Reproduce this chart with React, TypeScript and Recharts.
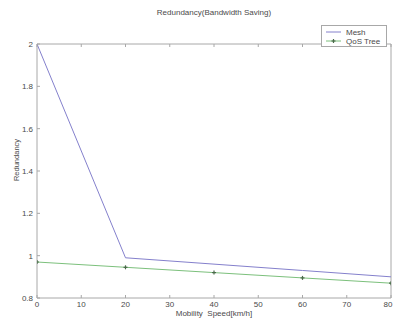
import React from 'react';
import { LineChart, Line, XAxis, YAxis, Legend, ReferenceArea } from 'recharts';

const speeds = [0, 20, 40, 60, 80];
const meshValues = [2.0, 0.99, 0.96, 0.93, 0.9];
const qosValues = [0.97, 0.945, 0.92, 0.895, 0.87];
const xTicks = [0, 10, 20, 30, 40, 50, 60, 70, 80];
const yTicks = [0.8, 1, 1.2, 1.4, 1.6, 1.8, 2];
const seriesNames = ['Mesh', 'QoS Tree'];

const data = speeds.map((s, i) => ({ speed: s, mesh: meshValues[i], qos: qosValues[i] }));

const FONT = '"Liberation Sans", Arial, sans-serif';
const TEXT = '#4a4a4a';
const FRAME = '#a8a8a8';
const MESH = '#8480cc';
const QOS = '#7cc07c';
const TICK = 3;
const FS = 8;

const PlusDot = (props: any) => {
  const { cx, cy } = props;
  if (cx == null || cy == null) return null;
  return (
    <g>
      <line x1={cx - 2} y1={cy} x2={cx + 2} y2={cy} stroke="#4a6a4a" strokeWidth={1.2} />
      <line x1={cx} y1={cy - 2} x2={cx} y2={cy + 2} stroke="#4a6a4a" strokeWidth={1.2} />
    </g>
  );
};

const BottomTick = (props: any) => {
  const { x, y, payload, index } = props;
  const last = index === xTicks.length - 1;
  return (
    <g>
      <line x1={x} y1={y} x2={x} y2={y - TICK} stroke={FRAME} />
      <text
        x={last ? Math.min(x, 393 - 5) : x}
        y={y + 9}
        textAnchor="middle"
        fontSize={FS}
        fill={TEXT}
        fontFamily={FONT}
      >
        {payload.value}
      </text>
    </g>
  );
};

const TopTick = (props: any) => {
  const { x, y } = props;
  return <line x1={x} y1={y} x2={x} y2={y + TICK} stroke={FRAME} />;
};

const LeftTick = (props: any) => {
  const { x, y, payload } = props;
  return (
    <g>
      <line x1={x} y1={y} x2={x + TICK} y2={y} stroke={FRAME} />
      <text x={x - 4} y={y + 3} textAnchor="end" fontSize={FS} fill={TEXT} fontFamily={FONT}>
        {payload.value}
      </text>
    </g>
  );
};

const RightTick = (props: any) => {
  const { x, y } = props;
  return <line x1={x} y1={y} x2={x - TICK} y2={y} stroke={FRAME} />;
};

const LegendBox = () => (
  <div
    style={{
      width: 66,
      height: 22,
      border: `1px solid ${FRAME}`,
      background: '#fff',
      boxSizing: 'border-box',
      position: 'relative',
    }}
  >
    <svg width={66} height={22} style={{ position: 'absolute', left: 0, top: 0 }}>
      <line x1={4} y1={6} x2={19} y2={6} stroke={MESH} strokeWidth={1} />
      <text x={24} y={9} fontSize={FS} fill={TEXT} fontFamily={FONT}>{seriesNames[0]}</text>
      <line x1={4} y1={15} x2={19} y2={15} stroke={QOS} strokeWidth={1} />
      <line x1={9.5} y1={15} x2={13.5} y2={15} stroke="#4a6a4a" strokeWidth={1.2} />
      <line x1={11.5} y1={13} x2={11.5} y2={17} stroke="#4a6a4a" strokeWidth={1.2} />
      <text x={24} y={18} fontSize={FS} fill={TEXT} fontFamily={FONT}>{seriesNames[1]}</text>
    </svg>
  </div>
);

export default function App() {
  return (
    <div style={{ position: 'absolute', left: 0, top: 0, width: 393, height: 322, background: '#fff' }}>
      <div
        style={{
          position: 'absolute',
          left: 0,
          width: 428,
          top: 8,
          textAlign: 'center',
          fontFamily: FONT,
          fontSize: FS,
          color: TEXT,
        }}
      >
        Redundancy(Bandwidth Saving)
      </div>
      <div
        style={{
          position: 'absolute',
          left: 16,
          top: 160,
          transform: 'translate(-50%, -50%) rotate(-90deg)',
          fontFamily: FONT,
          fontSize: 7.5,
          color: TEXT,
          whiteSpace: 'nowrap',
        }}
      >
        Redundancy
      </div>
      <div
        style={{
          position: 'absolute',
          left: 0,
          width: 428,
          top: 309,
          textAlign: 'center',
          fontFamily: FONT,
          fontSize: FS,
          color: TEXT,
          whiteSpace: 'pre',
        }}
      >
        {'Mobility  Speed[km/h]'}
      </div>
      <LineChart
        width={393}
        height={322}
        data={data}
        margin={{ top: 21, right: 1, bottom: 0, left: 0 }}
        style={{ fontFamily: FONT }}
      >
        <XAxis
          xAxisId="bottom"
          dataKey="speed"
          type="number"
          domain={[0, 80]}
          ticks={xTicks}
          height={24}
          tickSize={0}
          tickMargin={0}
          tickLine={false}
          axisLine={false}
          tick={<BottomTick />}
          interval={0}
          allowDataOverflow
        />
        <XAxis
          xAxisId="top"
          orientation="top"
          dataKey="speed"
          type="number"
          domain={[0, 80]}
          ticks={xTicks}
          height={1}
          tickSize={0}
          tickMargin={0}
          tickLine={false}
          axisLine={false}
          tick={<TopTick />}
          interval={0}
        />
        <YAxis
          yAxisId="left"
          type="number"
          domain={[0.8, 2]}
          ticks={yTicks}
          width={37}
          tickSize={0}
          tickMargin={0}
          tickLine={false}
          axisLine={false}
          tick={<LeftTick />}
          interval={0}
          allowDataOverflow
        />
        <YAxis
          yAxisId="right"
          orientation="right"
          type="number"
          domain={[0.8, 2]}
          ticks={yTicks}
          width={1}
          tickSize={0}
          tickMargin={0}
          tickLine={false}
          axisLine={false}
          tick={<RightTick />}
          interval={0}
        />
        <ReferenceArea
          xAxisId="bottom"
          yAxisId="left"
          x1={0}
          x2={80}
          y1={0.8}
          y2={2}
          fill="none"
          fillOpacity={0}
          stroke={FRAME}
          strokeOpacity={1}
          ifOverflow="visible"
        />
        <Legend
          verticalAlign="top"
          align="right"
          content={<LegendBox />}
          wrapperStyle={{ position: 'absolute', left: 321, top: 25, width: 66, height: 22 }}
        />
        <Line
          xAxisId="bottom"
          yAxisId="left"
          dataKey="mesh"
          name={seriesNames[0]}
          stroke={MESH}
          strokeWidth={1}
          dot={false}
          isAnimationActive={false}
        />
        <Line
          xAxisId="bottom"
          yAxisId="left"
          dataKey="qos"
          name={seriesNames[1]}
          stroke={QOS}
          strokeWidth={1}
          dot={<PlusDot />}
          isAnimationActive={false}
        />
      </LineChart>
    </div>
  );
}
